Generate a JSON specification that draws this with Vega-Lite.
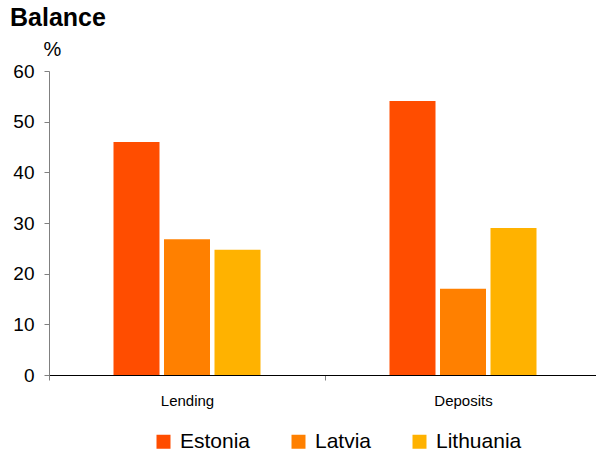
{
  "$schema": "https://vega.github.io/schema/vega-lite/v6.json",
  "width": 552,
  "height": 304,
  "autosize": "none",
  "padding": {"left": 49, "top": 71, "right": 0, "bottom": 77},
  "background": "white",
  "title": {
    "text": "Balance",
    "anchor": "start",
    "frame": "group",
    "font": "Liberation Sans",
    "fontSize": 25,
    "fontWeight": "bold",
    "color": "black",
    "dx": -39,
    "offset": 8
  },
  "data": {
    "values": [
      {"category": "Lending", "country": "Estonia", "value": 46.0},
      {"category": "Lending", "country": "Latvia", "value": 26.8},
      {"category": "Lending", "country": "Lithuania", "value": 24.7},
      {"category": "Deposits", "country": "Estonia", "value": 54.1},
      {"category": "Deposits", "country": "Latvia", "value": 17.0},
      {"category": "Deposits", "country": "Lithuania", "value": 29.0}
    ]
  },
  "mark": {"type": "bar"},
  "encoding": {
    "x": {
      "field": "category",
      "type": "nominal",
      "sort": ["Lending", "Deposits"],
      "scale": {"paddingInner": 0, "paddingOuter": 0},
      "axis": {
        "title": null,
        "labelAngle": 0,
        "labelFont": "Liberation Sans",
        "labelFontSize": 15,
        "labelColor": "black",
        "labelPadding": 13,
        "tickBand": "extent",
        "tickSize": 5,
        "tickColor": "#808080",
        "domainColor": "black",
        "domainWidth": 1
      }
    },
    "xOffset": {
      "field": "country",
      "type": "nominal",
      "sort": ["Estonia", "Latvia", "Lithuania"],
      "scale": {"range": [64.5, 211.5], "paddingInner": 0.089, "paddingOuter": 0}
    },
    "y": {
      "field": "value",
      "type": "quantitative",
      "scale": {"domain": [0, 60], "nice": false},
      "axis": {
        "values": [0, 10, 20, 30, 40, 50, 60],
        "grid": false,
        "title": "%",
        "titleAngle": 0,
        "titleAlign": "left",
        "titleBaseline": "alphabetic",
        "titleX": -6,
        "titleY": -16,
        "titleFont": "Liberation Sans",
        "titleFontSize": 20,
        "titleFontWeight": "normal",
        "titleColor": "black",
        "labelFont": "Liberation Sans",
        "labelFontSize": 19,
        "labelColor": "black",
        "labelPadding": 10,
        "tickSize": 5,
        "tickColor": "#808080",
        "domainColor": "#808080"
      }
    },
    "color": {
      "field": "country",
      "type": "nominal",
      "sort": ["Estonia", "Latvia", "Lithuania"],
      "scale": {
        "domain": ["Estonia", "Latvia", "Lithuania"],
        "range": ["#FF4D00", "#FF8000", "#FFB200"]
      },
      "legend": {
        "title": null,
        "orient": "none",
        "direction": "horizontal",
        "legendX": 104,
        "legendY": 360,
        "symbolType": "square",
        "symbolSize": 196,
        "symbolStrokeWidth": 0,
        "symbolOpacity": 1,
        "labelFont": "Liberation Sans",
        "labelFontSize": 21,
        "labelColor": "black",
        "labelOffset": 6,
        "columnPadding": 37
      }
    }
  },
  "config": {
    "view": {"stroke": null}
  }
}
